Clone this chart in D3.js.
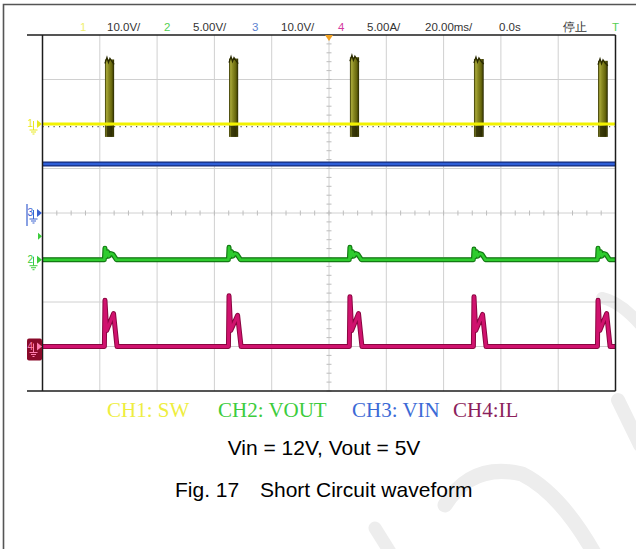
<!DOCTYPE html>
<html lang="en">
<head>
<meta charset="UTF-8">
<title>Short Circuit waveform</title>
<script src="https://cdn.jsdelivr.net/npm/d3@7"></script>
<style>
  body { margin: 0; background: #fff; }
  svg { display: block; }
</style>
</head>
<body>
<div id="chart"></div>
<script>
var gridTimes = [-100, -80, -60, -40, -20, 0, 20, 40, 60, 80, 100];   // ms, 20 ms/div
var gridDivs = [-4, -3, -2, -1, 0, 1, 2, 3, 4];

var chNames = ["1", "2", "3", "4"];
var chPerDiv = [10, 5, 10, 5];          // V/div, V/div, V/div, A/div
var chGround = [2, -1.05, 0, -3];       // ground marker position in divisions
var chColor = ["#f2f200", "#2ecc2e", "#2f5fd8", "#d0126e"];
var chEdge = ["#b8b800", "#137a13", "#142a7a", "#8a0640"];

var headerText = ["10.0V/", "5.00V/", "10.0V/", "5.00A/", "20.00ms/", "0.0s", "停止"];
var headerNumColor = ["#f0f070", "#55d055", "#5a7fd0", "#d43aa0"];

var legendText = ["CH1: SW", "CH2: VOUT", "CH3: VIN", "CH4:IL"];
var legendColor = ["#eeee40", "#3ccc3c", "#3c6ad6", "#8c1f5c"];

// CH1 (SW): flat 0 V with switching bursts
var ch1Level = 0;
var burstStart = [-78.2, -34.9, 7.3, 50.6, 93.9];
var burstEnd = [-75.0, -31.7, 10.5, 54.0, 97.3];
var burstMax = [14.5, 14.7, 15.0, 14.6, 14.2];
var burstMin = [-2.9, -2.9, -2.9, -2.9, -2.9];

// CH3 (VIN): flat
var ch3Level = 11.0;

// CH2 (VOUT) points [ms, V]
var ch2Points = [
  [-100, 0],
  [-78.4, 0], [-78.2, 1.3], [-77.9, 0.3], [-77.3, 0.9], [-76.9, 0.4], [-76.2, 0.7], [-75.4, 0.6], [-74.2, 0],
  [-35.1, 0], [-34.9, 1.4], [-34.6, 0.3], [-34.0, 0.9], [-33.6, 0.4], [-32.9, 0.7], [-32.1, 0.6], [-30.9, 0],
  [7.1, 0], [7.3, 1.4], [7.6, 0.3], [8.2, 0.9], [8.6, 0.4], [9.3, 0.7], [10.1, 0.6], [11.3, 0],
  [50.4, 0], [50.6, 1.2], [50.9, 0.3], [51.5, 0.9], [51.9, 0.4], [52.6, 0.7], [53.4, 0.6], [54.6, 0],
  [93.7, 0], [93.9, 1.3], [94.2, 0.3], [94.8, 0.9], [95.2, 0.4], [95.9, 0.7], [96.7, 0.6], [97.9, 0],
  [100, 0]
];

// CH4 (IL) points [ms, A]
var ch4Points = [
  [-100, 0],
  [-78.4, 0], [-78.2, 5.2], [-77.6, 1.8], [-75.2, 3.7], [-74.0, 0],
  [-35.1, 0], [-34.9, 5.7], [-34.3, 1.8], [-31.9, 3.5], [-30.7, 0],
  [7.1, 0], [7.3, 5.6], [7.9, 1.8], [10.3, 3.7], [11.5, 0],
  [50.4, 0], [50.6, 5.6], [51.2, 1.8], [53.6, 3.6], [54.8, 0],
  [93.7, 0], [93.9, 5.2], [94.5, 1.8], [96.9, 3.7], [98.1, 0],
  [100, 0]
];

// ---- drawing ----
var W = 636, H = 549;
var svg = d3.select("#chart").append("svg")
  .attr("width", W).attr("height", H);

var defs = svg.append("defs");
var grad = defs.append("linearGradient").attr("id", "burstFill")
  .attr("x1", "0%").attr("x2", "100%").attr("y1", "0%").attr("y2", "0%");
[["0%", "#2e2e00"], ["18%", "#a8a838"], ["40%", "#8a8a22"], ["75%", "#66660c"], ["100%", "#262600"]]
  .forEach(function (s) { grad.append("stop").attr("offset", s[0]).attr("stop-color", s[1]); });

// watermark (faint strokes behind everything)
var wm = svg.append("g").attr("fill", "none").attr("stroke", "#ededed")
  .attr("stroke-linecap", "round");
wm.append("path").attr("d", "M602,298 Q622,302 645,330").attr("stroke-width", 12);
wm.append("path").attr("d", "M618,400 L640,445").attr("stroke-width", 14);
wm.append("path").attr("d", "M445,505 Q472,462 522,474 Q562,494 598,560").attr("stroke-width", 15);
wm.append("path").attr("d", "M375,528 L395,560").attr("stroke-width", 13);

// page border
svg.append("path").attr("d", "M3.5,549 L3.5,4.5 L636,4.5")
  .attr("fill", "none").attr("stroke", "#555").attr("stroke-width", 1.6);

var x = d3.scaleLinear().domain([-100, 100]).range([42.5, 615.5]);
var yDiv = d3.scaleLinear().domain([-4, 4]).range([391, 35]);
function chY(ch, v) { return yDiv(chGround[ch] + v / chPerDiv[ch]); }

// grid
var grid = svg.append("g").attr("stroke", "#d0d0d0").attr("stroke-width", 1);
grid.selectAll(".vg").data(gridTimes.slice(1, -1)).enter().append("line")
  .attr("x1", function (d) { return x(d); }).attr("x2", function (d) { return x(d); })
  .attr("y1", yDiv(-4)).attr("y2", yDiv(4));
grid.selectAll(".hg").data(gridDivs.slice(1, -1)).enter().append("line")
  .attr("x1", x(-100)).attr("x2", x(100))
  .attr("y1", function (d) { return yDiv(d); }).attr("y2", function (d) { return yDiv(d); });

// minor ticks on the centre axes
var minorT = d3.range(-100, 100.01, 5);
var minorD = d3.range(-4, 4.01, 0.2);
grid.selectAll(".mt").data(minorT).enter().append("line")
  .attr("x1", function (d) { return x(d); }).attr("x2", function (d) { return x(d); })
  .attr("y1", yDiv(0) - 2.5).attr("y2", yDiv(0) + 2.5).attr("stroke", "#bdbdbd");
grid.selectAll(".md").data(minorD).enter().append("line")
  .attr("y1", function (d) { return yDiv(d); }).attr("y2", function (d) { return yDiv(d); })
  .attr("x1", x(0) - 2.5).attr("x2", x(0) + 2.5).attr("stroke", "#bdbdbd");

// CH3 (blue) flat trace
svg.append("line").attr("x1", x(-100)).attr("x2", x(100))
  .attr("y1", chY(2, ch3Level)).attr("y2", chY(2, ch3Level))
  .attr("stroke", chEdge[2]).attr("stroke-width", 5);
svg.append("line").attr("x1", x(-100)).attr("x2", x(100))
  .attr("y1", chY(2, ch3Level)).attr("y2", chY(2, ch3Level))
  .attr("stroke", chColor[2]).attr("stroke-width", 2.5);

// CH1 bursts
var bursts = burstStart.map(function (s, i) {
  return { s: s, e: burstEnd[i], hi: burstMax[i], lo: burstMin[i] };
});
svg.selectAll(".burst").data(bursts).enter().append("rect")
  .attr("x", function (d) { return x(d.s); })
  .attr("width", function (d) { return x(d.e) - x(d.s); })
  .attr("y", function (d) { return chY(0, d.hi); })
  .attr("height", function (d) { return chY(0, d.lo) - chY(0, d.hi); })
  .attr("fill", "url(#burstFill)");
// dark lower part below the baseline
svg.selectAll(".burstLow").data(bursts).enter().append("rect")
  .attr("x", function (d) { return x(d.s) + 1.5; })
  .attr("width", function (d) { return x(d.e) - x(d.s) - 3; })
  .attr("y", chY(0, ch1Level) + 2)
  .attr("height", function (d) { return chY(0, d.lo) - chY(0, ch1Level) - 2; })
  .attr("fill", "#1e1e00").attr("opacity", 0.75);
// ragged top
svg.selectAll(".burstTop").data(bursts).enter().append("path")
  .attr("d", function (d) {
    var x0 = x(d.s), x1 = x(d.e), yt = chY(0, d.hi);
    return "M" + x0 + "," + (yt + 4) + " L" + (x0 + 2) + "," + (yt - 2) + " L" + (x0 + 3.5) + "," + (yt + 3) +
      " L" + (x0 + 5) + "," + (yt - 1) + " L" + (x0 + 7) + "," + (yt + 2) + " L" + x1 + "," + (yt + 5);
  })
  .attr("fill", "none").attr("stroke", "#2a2a00").attr("stroke-width", 1.3);

// CH1 baseline
svg.append("line").attr("x1", x(-100)).attr("x2", x(100))
  .attr("y1", chY(0, ch1Level)).attr("y2", chY(0, ch1Level))
  .attr("stroke", chColor[0]).attr("stroke-width", 3.2);
svg.append("line").attr("x1", x(-100)).attr("x2", x(100))
  .attr("y1", chY(0, ch1Level) + 2.6).attr("y2", chY(0, ch1Level) + 2.6)
  .attr("stroke", "#333").attr("stroke-width", 1.2).attr("stroke-dasharray", "1.2,4.3")
  .attr("opacity", 0.8);

var line2 = d3.line().x(function (d) { return x(d[0]); }).y(function (d) { return chY(1, d[1]); });
var line4 = d3.line().x(function (d) { return x(d[0]); }).y(function (d) { return chY(3, d[1]); });

// CH2 trace
svg.append("path").attr("d", line2(ch2Points)).attr("fill", "none")
  .attr("stroke", chEdge[1]).attr("stroke-width", 5).attr("stroke-linejoin", "round");
svg.append("path").attr("d", line2(ch2Points)).attr("fill", "none")
  .attr("stroke", chColor[1]).attr("stroke-width", 2.6).attr("stroke-linejoin", "round");

// CH4 trace
svg.append("path").attr("d", line4(ch4Points)).attr("fill", "none")
  .attr("stroke", chEdge[3]).attr("stroke-width", 5).attr("stroke-linejoin", "round");
svg.append("path").attr("d", line4(ch4Points)).attr("fill", "none")
  .attr("stroke", chColor[3]).attr("stroke-width", 3).attr("stroke-linejoin", "round");

// plot frame
var frame = svg.append("g").attr("stroke", "#1c1c1c").attr("stroke-width", 1.5).attr("fill", "none");
frame.append("line").attr("x1", 27).attr("x2", x(100)).attr("y1", yDiv(4)).attr("y2", yDiv(4));
frame.append("line").attr("x1", 27).attr("x2", x(100)).attr("y1", yDiv(-4)).attr("y2", yDiv(-4));
frame.append("line").attr("x1", x(-100)).attr("x2", x(-100)).attr("y1", yDiv(4)).attr("y2", yDiv(-4));
frame.append("line").attr("x1", x(100)).attr("x2", x(100)).attr("y1", yDiv(4)).attr("y2", yDiv(-4));

// trigger position marker
svg.append("path")
  .attr("d", "M" + (x(0) - 4) + "," + yDiv(4) + " L" + (x(0) + 4) + "," + yDiv(4) + " L" + x(0) + "," + (yDiv(4) + 6) + "Z")
  .attr("fill", "#f0a020");

// channel ground markers on the left
function groundMarker(ch, color, boxed) {
  var gy = yDiv(chGround[ch]);
  var g = svg.append("g");
  if (boxed) {
    g.append("rect").attr("x", 27).attr("y", gy - 8).attr("width", 15).attr("height", 22)
      .attr("rx", 2).attr("fill", "#8a0a2a");
    color = "#ff7fb0";
  }
  g.append("text").attr("x", 27.5).attr("y", gy + 3).text(chNames[ch])
    .attr("font-family", "Liberation Sans, Arial, sans-serif").attr("font-size", 10).attr("fill", color);
  g.append("path").attr("d", "M" + 37 + "," + (gy - 4) + " L" + 42 + "," + gy + " L" + 37 + "," + (gy + 4) + "Z")
    .attr("fill", color);
  g.append("path")
    .attr("d", "M33.5," + (gy - 3) + " V" + (gy + 6) + " M29.5," + (gy + 6) + " H37.5 M31," + (gy + 8) + " H36 M32.5," + (gy + 10) + " H34.5")
    .attr("stroke", color).attr("stroke-width", 1).attr("fill", "none");
}
groundMarker(0, "#e8e820", false);
groundMarker(2, "#3a62d0", false);
groundMarker(1, "#3ccc3c", false);
groundMarker(3, "#ff7fb0", true);
// CH3 bracket and CH2 trigger level arrow
svg.append("line").attr("x1", 27).attr("x2", 27).attr("y1", yDiv(0) - 9).attr("y2", yDiv(0) + 13)
  .attr("stroke", "#3a62d0").attr("stroke-width", 1.2);
svg.append("path").attr("d", "M38," + (yDiv(-0.52) - 3.5) + " L42," + yDiv(-0.52) + " L38," + (yDiv(-0.52) + 3.5) + "Z")
  .attr("fill", "#3ccc3c");

// header
var hdrFont = "Liberation Sans, Arial, sans-serif";
var hdrY = 31;
var hdr = svg.append("g").attr("font-family", hdrFont).attr("font-size", 11.5);
var numX = [80, 164, 252, 338];
var valX = [107, 193, 281, 367, 425, 499, 563];
numX.forEach(function (px, i) {
  hdr.append("text").attr("x", px).attr("y", hdrY).attr("fill", headerNumColor[i]).text(chNames[i]);
});
headerText.forEach(function (t, i) {
  hdr.append("text").attr("x", valX[i]).attr("y", hdrY).attr("fill", "#333").text(t);
});
hdr.append("text").attr("x", 612).attr("y", hdrY).attr("fill", "#55d055").text("T");

// legend line
var legX = [107, 218, 352, 453];
svg.append("g").attr("font-family", "Liberation Serif, Times New Roman, serif").attr("font-size", 21)
  .selectAll("text").data(legendText).enter().append("text")
  .attr("x", function (d, i) { return legX[i]; }).attr("y", 417)
  .attr("fill", function (d, i) { return legendColor[i]; })
  .text(function (d) { return d; });

// captions
var cap = svg.append("g").attr("font-family", hdrFont).attr("font-size", 21).attr("fill", "#000");
cap.append("text").attr("x", 324).attr("y", 455).attr("text-anchor", "middle").text("Vin = 12V, Vout = 5V");
cap.append("text").attr("x", 175).attr("y", 497).text("Fig. 17");
cap.append("text").attr("x", 260).attr("y", 497).text("Short Circuit waveform");
</script>
</body>
</html>
